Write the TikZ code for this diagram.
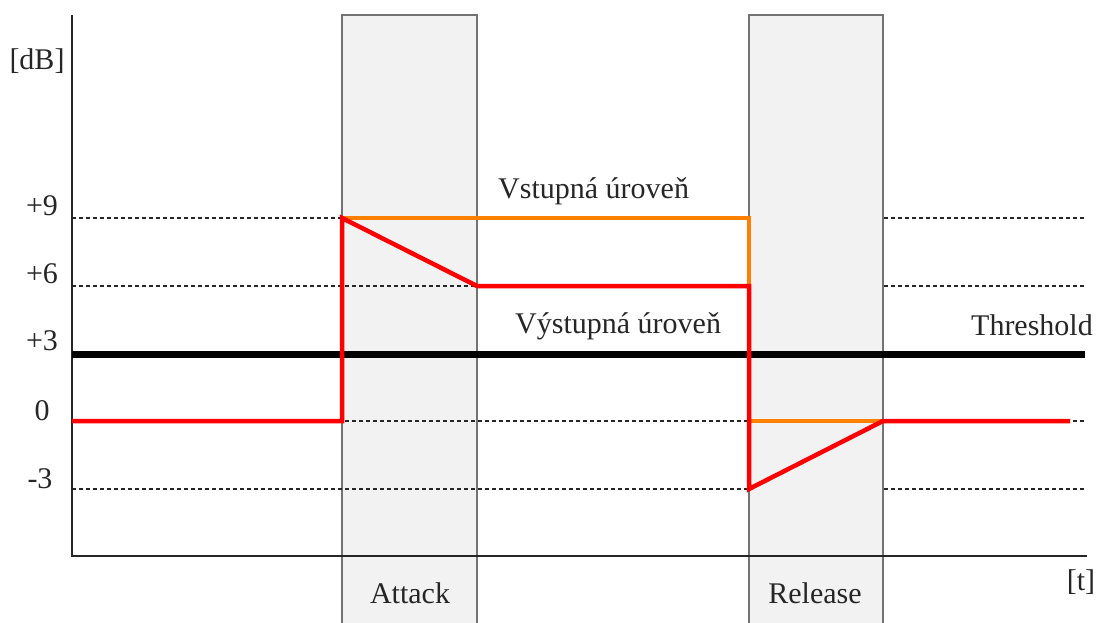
\documentclass[tikz,border=0pt]{standalone}
\usepackage{fontspec}
\setmainfont{Liberation Serif}
\definecolor{inorange}{RGB}{255,128,0}
\begin{document}
\begin{tikzpicture}[x=1pt,y=-1pt,
  lbl/.style={font=\fontsize{30}{36}\selectfont, text=black!85, inner sep=0pt, anchor=base},
  phase/.style={fill=black!5, draw=black!55, line width=1.4pt},
  level/.style={dashed, dash pattern=on 4pt off 3pt, line width=1.3pt, black!85},
  axis/.style={line width=1.4pt, black!85},
  thresh/.style={line width=7pt, black},
  inlevel/.style={line width=4.5pt, inorange, line join=miter},
  outlevel/.style={line width=4.5pt, red, line join=miter}]
\useasboundingbox (0,0) rectangle (1097,623);
% coordinates
\coordinate (O) at (72,556);
\coordinate (Ytop) at (72,15);
\coordinate (Xend) at (1087,556);
% attack box
\path[phase] (342,15) rectangle (477,630);
% dashed levels
\foreach \y in {218,286,421,489} \draw[level] (72,\y) -- (1085,\y);
% release box
\path[phase] (749,15) rectangle (883,630);
% axes
\draw[axis] (Ytop) -- (O) -- (Xend);
% threshold
\coordinate (T1) at (72,354);
\coordinate (T2) at (1085,354);
\draw[thresh] (T1) -- (T2);
% input level
\coordinate (A9) at (342,218);
\coordinate (R9) at (749,218);
\coordinate (R0) at (749,421);
\coordinate (E0) at (883,421);
\draw[inlevel] (A9) -- (R9) -- (R0) -- (E0);
% output level
\coordinate (S0) at (72,421);
\coordinate (A0) at (342,421);
\coordinate (B6) at (477,286);
\coordinate (R6) at (749,286);
\coordinate (Rm3) at (749,489);
\coordinate (F0) at (1070,421);
\draw[outlevel] (S0) -- (A0) -- (A9) -- (B6) -- (R6) -- (Rm3) -- (E0) -- (F0);
% texts
\node[lbl] (dB) at (37,70) {[dB]};
\node[lbl] (t) at (1081,590) {[t]};
\node[lbl] (p9) at (42,215) {+9};
\node[lbl] (p6) at (42,283) {+6};
\node[lbl] (p3) at (42,350) {+3};
\node[lbl] (z0) at (42,420) {0};
\node[lbl] (m3) at (40,488) {-3};
\node[lbl, anchor=base west] (vst) at (498,198) {Vstupná úroveň};
\node[lbl, anchor=base west] (vyst) at (515,333) {Výstupná úroveň};
\node[lbl, anchor=base east] (thr) at (1093,335) {Threshold};
\node[lbl] (att) at (410,603) {Attack};
\node[lbl] (rel) at (815,603) {Release};
\end{tikzpicture}
\end{document}
